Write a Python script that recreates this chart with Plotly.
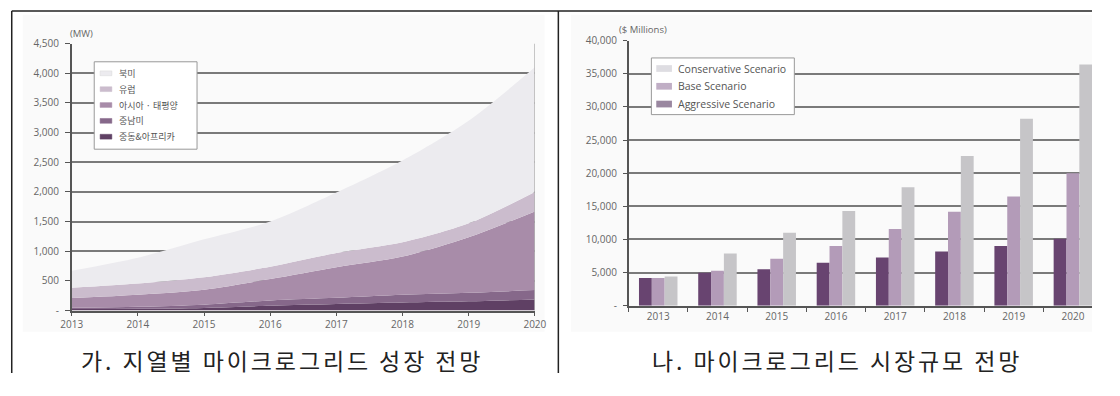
import plotly.graph_objects as go

# ---- Left panel: regional microgrid capacity (MW), stacked areas ----
years = [2013, 2014, 2015, 2016, 2017, 2018, 2019, 2020]
mea = [25, 30, 45, 80, 110, 135, 155, 185]          # 중동&아프리카
latam = [23, 35, 55, 90, 105, 130, 145, 160]        # 중남미
apac = [162, 200, 250, 360, 515, 645, 935, 1325]    # 아시아 · 태평양
europe = [173, 190, 210, 210, 240, 240, 235, 330]   # 유럽
namerica = [287, 435, 640, 760, 1020, 1380, 1730, 2100]  # 북미

region_names = ["중동&아프리카", "중남미", "아시아 · 태평양", "유럽", "북미"]
region_colors = ["#5f4064", "#86688a", "#a88ca9", "#cbbccd", "#ecebef"]

left_yticks = [0, 500, 1000, 1500, 2000, 2500, 3000, 3500, 4000, 4500]
left_yticktext = ["-", "500", "1,000", "1,500", "2,000", "2,500", "3,000", "3,500", "4,000", "4,500"]

# ---- Right panel: market size ($ Millions), grouped bars ----
bar_years = ["2013", "2014", "2015", "2016", "2017", "2018", "2019", "2020"]
aggressive = [4200, 5000, 5500, 6500, 7300, 8200, 9000, 10100]
base = [4200, 5300, 7100, 9000, 11600, 14200, 16500, 20000]
conservative = [4400, 7900, 11000, 14300, 17900, 22600, 28200, 36400]

scenario_names = ["Aggressive Scenario", "Base Scenario", "Conservative Scenario"]
scenario_colors = ["#684470", "#b39bb8", "#c6c5c8"]
scenario_key_colors = ["#9a87a0", "#c0aec5", "#dedde2"]

right_yticks = [0, 5000, 10000, 15000, 20000, 25000, 30000, 35000, 40000]
right_yticktext = ["-", "5,000", "10,000", "15,000", "20,000", "25,000", "30,000", "35,000", "40,000"]

captions = ["가. 지열별 마이크로그리드 성장 전망", "나. 마이크로그리드 시장규모 전망"]

# The page body keeps its default 8px margin, so the figure is sized to fill
# the remaining 1120x396 window and positions below are given in window pixels.
PAGE_MARGIN = 8
W, H = 1120 - 2 * PAGE_MARGIN, 396 - 2 * PAGE_MARGIN


def px(x):
    return (x - PAGE_MARGIN) / W


def py(y):
    return 1 - (y - PAGE_MARGIN) / H


fig = go.Figure()

region_values = [mea, latam, apac, europe, namerica]
for name, vals, col in zip(region_names, region_values, region_colors):
    fig.add_trace(go.Scatter(
        x=years, y=vals, name=name, stackgroup="regions",
        mode="lines", line=dict(width=0, shape="spline", smoothing=0.8),
        fillcolor=col, xaxis="x", yaxis="y", showlegend=False,
    ))

for name, vals, col in zip(scenario_names, [aggressive, base, conservative], scenario_colors):
    fig.add_trace(go.Bar(
        x=bar_years, y=vals, name=name, marker=dict(color=col, line=dict(width=0)),
        xaxis="x2", yaxis="y2", showlegend=False,
    ))

tick_font = dict(family="Open Sans, sans-serif", size=10, color="#666666")
grid_col = "#7a7a7a"

# right panel: 60.5 px per year band, starting at the y axis
band_px = 60.5
x2_left = 638.75
x2_right_end = -0.5 + (1120 - PAGE_MARGIN - x2_left) / band_px

fig.update_layout(
    width=W, height=H,
    margin=dict(l=0, r=0, t=0, b=0),
    paper_bgcolor="white",
    plot_bgcolor="rgba(0,0,0,0)",
    barmode="group", bargap=0.35, bargroupgap=0,
    showlegend=False,
    xaxis=dict(
        domain=[px(70), px(543)], range=[2013, 2020],
        tickvals=years, ticktext=[str(y) for y in years],
        ticks="outside", ticklen=4, tickcolor="#555", tickfont=tick_font,
        showgrid=False, showline=True, linecolor="#555", linewidth=1.5,
        zeroline=False, anchor="y", fixedrange=True,
    ),
    yaxis=dict(
        domain=[py(323), py(45)], range=[0, 4500],
        tickvals=left_yticks, ticktext=left_yticktext,
        ticks="outside", ticklen=5, tickcolor="#555", tickfont=tick_font,
        ticklabelstandoff=4,
        showgrid=True, gridcolor=grid_col, gridwidth=1.5,
        showline=True, linecolor="#555", linewidth=1.5,
        zeroline=False, anchor="x",
    ),
    xaxis2=dict(
        domain=[px(x2_left), 1], range=[-0.5, x2_right_end],
        type="category", tickson="boundaries",
        ticks="outside", ticklen=4, tickcolor="#555", tickfont=tick_font,
        showgrid=False, showline=True, linecolor="#555", linewidth=1.5,
        zeroline=False, anchor="y2",
    ),
    yaxis2=dict(
        domain=[py(318), py(42)], range=[0, 40000],
        tickvals=right_yticks, ticktext=right_yticktext,
        ticks="outside", ticklen=4, tickcolor="#555", tickfont=tick_font,
        ticklabelstandoff=4,
        showgrid=True, gridcolor=grid_col, gridwidth=1.5,
        showline=True, linecolor="#555", linewidth=1.5,
        zeroline=False, anchor="x2",
    ),
)

shapes = [
    # faint backgrounds of the two chart panels
    dict(type="rect", xref="paper", yref="paper", x0=px(20), x1=px(553), y0=py(345), y1=py(15),
         fillcolor="#fafafa", line=dict(width=0), layer="below"),
    dict(type="rect", xref="paper", yref="paper", x0=px(580), x1=1, y0=py(345), y1=py(15),
         fillcolor="#fafafa", line=dict(width=0), layer="below"),
    # right edge of the area plot
    dict(type="line", xref="x", yref="y", x0=2020, x1=2020, y0=0, y1=4500,
         line=dict(color="#a8a8a8", width=1.2), layer="above"),
    # table borders
    dict(type="line", xref="paper", yref="paper", x0=px(8.75), x1=1, y0=py(11), y1=py(11),
         line=dict(color="#222", width=1.5)),
    dict(type="line", xref="paper", yref="paper", x0=px(8.75), x1=px(8.75), y0=0, y1=py(11),
         line=dict(color="#222", width=1.5)),
    dict(type="line", xref="paper", yref="paper", x0=px(567), x1=px(567), y0=0, y1=py(11),
         line=dict(color="#222", width=1.5)),
]

annotations = [
    dict(text="(MW)", x=px(66), y=py(35), xref="paper", yref="paper",
         xanchor="left", yanchor="middle", showarrow=False,
         font=dict(family="Open Sans, sans-serif", size=9.5, color="#666")),
    dict(text="($ Millions)", x=px(627), y=py(30), xref="paper", yref="paper",
         xanchor="left", yanchor="middle", showarrow=False,
         font=dict(family="Open Sans, sans-serif", size=9.5, color="#666")),
]

# key for the area chart (top entry first)
shapes.append(dict(type="rect", xref="paper", yref="paper", x0=px(93), x1=px(198),
                   y0=py(155), y1=py(64), fillcolor="white", line=dict(color="#999", width=1)))
left_key_y = [76, 92.5, 109, 125.5, 142]
for yy, name, col in zip(left_key_y, region_names[::-1], region_colors[::-1]):
    shapes.append(dict(type="rect", xref="paper", yref="paper", x0=px(99), x1=px(111),
                       y0=py(yy + 2.5), y1=py(yy - 2.5), fillcolor=col,
                       line=dict(color="#d8d8d8" if col == "#ecebef" else col, width=0.5)))
    annotations.append(dict(text=name, x=px(116), y=py(yy), xref="paper", yref="paper",
                            xanchor="left", yanchor="middle", showarrow=False,
                            font=dict(family="Noto Sans CJK KR, sans-serif", size=9, color="#555")))

# key for the bar chart (top entry first)
shapes.append(dict(type="rect", xref="paper", yref="paper", x0=px(662), x1=px(808),
                   y0=py(119), y1=py(60), fillcolor="white", line=dict(color="#999", width=1)))
right_key_y = [71, 89.5, 108]
for yy, name, col in zip(right_key_y, scenario_names[::-1], scenario_key_colors[::-1]):
    shapes.append(dict(type="rect", xref="paper", yref="paper", x0=px(667), x1=px(683),
                       y0=py(yy + 3.5), y1=py(yy - 3.5), fillcolor=col, line=dict(width=0)))
    annotations.append(dict(text=name, x=px(687), y=py(yy), xref="paper", yref="paper",
                            xanchor="left", yanchor="middle", showarrow=False,
                            font=dict(family="Open Sans, sans-serif", size=10.5, color="#555")))

# captions under each chart
for cx, text in zip([285, 852], captions):
    annotations.append(dict(
        text='<span style="letter-spacing:2.9px">' + text + '</span>',
        x=px(cx), y=py(374), xref="paper", yref="paper",
        xanchor="center", yanchor="middle", showarrow=False,
        font=dict(family="Noto Sans CJK KR, sans-serif", size=23, color="#222")))

fig.update_layout(shapes=shapes, annotations=annotations)

fig.write_html("out.html")
